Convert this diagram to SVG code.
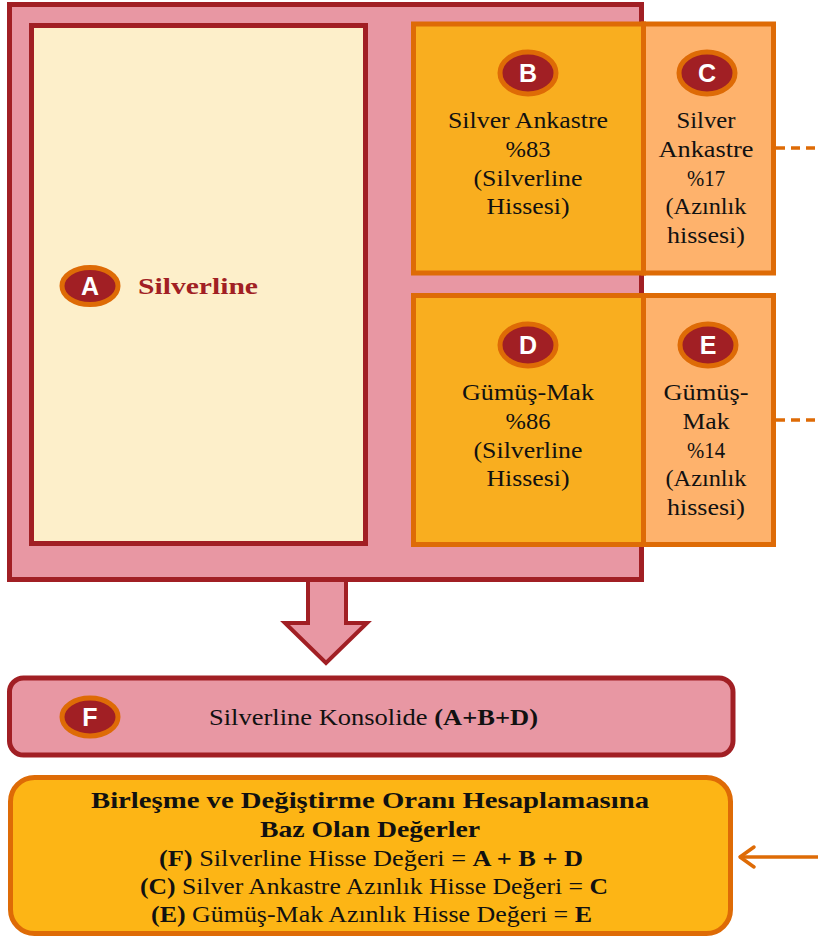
<svg xmlns="http://www.w3.org/2000/svg" width="818" height="937" viewBox="0 0 818 937">
<style>
.serif{font-family:"Liberation Serif","Times New Roman",serif;fill:#111;}
.t{font-size:24px;text-anchor:middle;}
.badge{fill:#a11f24;stroke:#de6b06;stroke-width:5;}
.bl{font-family:"Liberation Sans",Arial,sans-serif;font-weight:bold;font-size:25px;fill:#fff;text-anchor:middle;}
.dash{stroke:#de6b06;stroke-width:3.5;stroke-dasharray:9 6;fill:none;}
.b{font-weight:bold;}
</style>
<rect width="818" height="937" fill="#fff"/>
<g id="connectors">
<polygon points="308,570 346,570 346,623 367,623 326,663 285,623 308,623" fill="#e897a3" stroke="#a11f24" stroke-width="4" stroke-linejoin="miter"/>
<line class="dash" x1="776" y1="148" x2="818" y2="148"/>
<line class="dash" x1="776" y1="420" x2="818" y2="420"/>
<line x1="818" y1="857" x2="741" y2="857" stroke="#de6b06" stroke-width="3.5"/>
<polyline points="754,847 740,857 754,867" fill="none" stroke="#de6b06" stroke-width="3.5" stroke-linecap="round" stroke-linejoin="round"/>
</g>
<g id="group-main">
<rect x="9.5" y="4.5" width="632" height="575" fill="#e897a3" stroke="#a11f24" stroke-width="5"/>
</g>
<g id="node-A">
<rect x="31.5" y="25.5" width="334" height="518" fill="#fdefca" stroke="#a11f24" stroke-width="5"/>
<ellipse class="badge" cx="90" cy="286" rx="28" ry="18.5"/>
<text class="bl" x="90" y="295">A</text>
<text class="serif b" x="138" y="294" font-size="24" textLength="120" lengthAdjust="spacingAndGlyphs" style="fill:#a11f24">Silverline</text>
</g>
<g id="node-B">
<rect x="413.5" y="24" width="230" height="249" fill="#f9ae1f" stroke="#de6b06" stroke-width="5"/>
<ellipse class="badge" cx="528" cy="73" rx="28" ry="21"/>
<text class="bl" x="528" y="82">B</text>
<text class="serif t" x="528" y="128" textLength="160" lengthAdjust="spacingAndGlyphs">Silver Ankastre</text>
<text class="serif t" x="528" y="157" textLength="45" lengthAdjust="spacingAndGlyphs">%83</text>
<text class="serif t" x="528" y="186" textLength="109" lengthAdjust="spacingAndGlyphs">(Silverline</text>
<text class="serif t" x="528" y="214" textLength="83" lengthAdjust="spacingAndGlyphs">Hissesi)</text>
</g>
<g id="node-C">
<rect x="643.5" y="24" width="130" height="249" fill="#feb26c" stroke="#de6b06" stroke-width="5"/>
<ellipse class="badge" cx="707" cy="73" rx="28" ry="21"/>
<text class="bl" x="707" y="82">C</text>
<text class="serif t" x="706" y="128" textLength="59" lengthAdjust="spacingAndGlyphs">Silver</text>
<text class="serif t" x="706" y="157" textLength="95" lengthAdjust="spacingAndGlyphs">Ankastre</text>
<text class="serif t" x="706" y="186" textLength="38" lengthAdjust="spacingAndGlyphs">%17</text>
<text class="serif t" x="706" y="214" textLength="81" lengthAdjust="spacingAndGlyphs">(Azınlık</text>
<text class="serif t" x="706" y="243" textLength="78" lengthAdjust="spacingAndGlyphs">hissesi)</text>
</g>
<g id="node-D">
<rect x="413.5" y="295.5" width="230" height="249" fill="#f9ae1f" stroke="#de6b06" stroke-width="5"/>
<ellipse class="badge" cx="528" cy="345" rx="28" ry="21"/>
<text class="bl" x="528" y="354">D</text>
<text class="serif t" x="528" y="400" textLength="132" lengthAdjust="spacingAndGlyphs">Gümüş-Mak</text>
<text class="serif t" x="528" y="429" textLength="45" lengthAdjust="spacingAndGlyphs">%86</text>
<text class="serif t" x="528" y="458" textLength="109" lengthAdjust="spacingAndGlyphs">(Silverline</text>
<text class="serif t" x="528" y="486" textLength="83" lengthAdjust="spacingAndGlyphs">Hissesi)</text>
</g>
<g id="node-E">
<rect x="643.5" y="295.5" width="130" height="249" fill="#feb26c" stroke="#de6b06" stroke-width="5"/>
<ellipse class="badge" cx="708" cy="345" rx="28" ry="21"/>
<text class="bl" x="708" y="354">E</text>
<text class="serif t" x="706" y="400" textLength="85" lengthAdjust="spacingAndGlyphs">Gümüş-</text>
<text class="serif t" x="706" y="429" textLength="47" lengthAdjust="spacingAndGlyphs">Mak</text>
<text class="serif t" x="706" y="458" textLength="38" lengthAdjust="spacingAndGlyphs">%14</text>
<text class="serif t" x="706" y="486" textLength="81" lengthAdjust="spacingAndGlyphs">(Azınlık</text>
<text class="serif t" x="706" y="515" textLength="78" lengthAdjust="spacingAndGlyphs">hissesi)</text>
</g>
<g id="node-F">
<rect x="9.5" y="678" width="723.5" height="77" rx="14" fill="#e897a3" stroke="#a11f24" stroke-width="5"/>
<ellipse class="badge" cx="90" cy="717" rx="28" ry="19"/>
<text class="bl" x="90" y="726">F</text>
<text class="serif" x="209" y="725" font-size="23" textLength="329" lengthAdjust="spacingAndGlyphs">Silverline Konsolide <tspan class="b">(A+B+D)</tspan></text>
</g>
<g id="node-result">
<rect x="10.5" y="777.5" width="720" height="156" rx="24" fill="#fdb515" stroke="#de6b06" stroke-width="5"/>
<text class="serif t b" x="370" y="808" font-size="23" textLength="558" lengthAdjust="spacingAndGlyphs">Birleşme ve Değiştirme Oranı Hesaplamasına</text>
<text class="serif t b" x="370" y="837" font-size="23" textLength="220" lengthAdjust="spacingAndGlyphs">Baz Olan Değerler</text>
<text class="serif t" x="371" y="866" font-size="23" textLength="424" lengthAdjust="spacingAndGlyphs"><tspan class="b">(F)</tspan> Silverline Hisse Değeri = <tspan class="b">A + B + D</tspan></text>
<text class="serif t" x="374" y="894" font-size="23" textLength="468" lengthAdjust="spacingAndGlyphs"><tspan class="b">(C)</tspan> Silver Ankastre Azınlık Hisse Değeri = <tspan class="b">C</tspan></text>
<text class="serif t" x="371.5" y="922" font-size="23" textLength="441" lengthAdjust="spacingAndGlyphs"><tspan class="b">(E)</tspan> Gümüş-Mak Azınlık Hisse Değeri = <tspan class="b">E</tspan></text>
</g>
</svg>
